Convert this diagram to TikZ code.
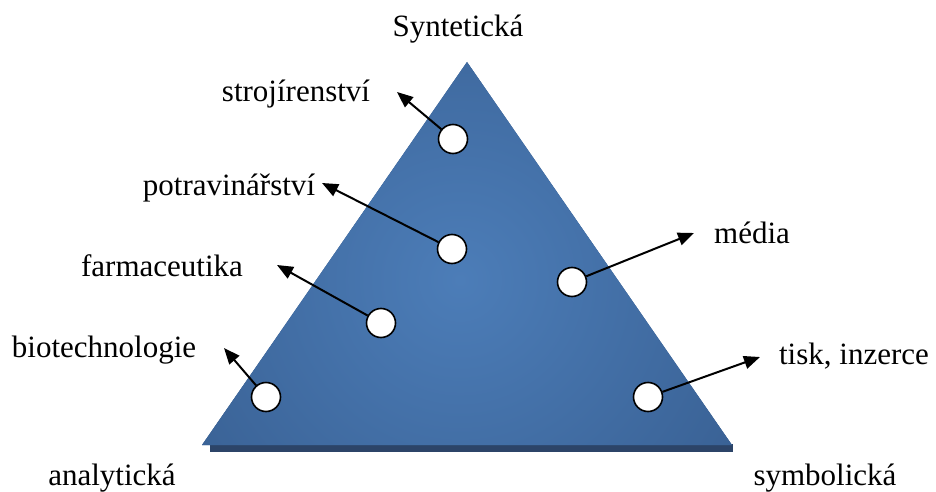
\documentclass[tikz,border=0pt]{standalone}
\usepackage{fontspec}
\setmainfont{Liberation Serif}
\usetikzlibrary{arrows.meta}
\definecolor{triin}{RGB}{76,125,184}
\definecolor{triout}{RGB}{50,86,134}
\definecolor{shadowc}{RGB}{44,68,104}
\tikzset{
  dot/.style={circle,draw=black,line width=1.6pt,fill=white,minimum size=29pt,inner sep=0pt},
  lbl/.style={anchor=base,font=\fontsize{31}{36}\selectfont,inner sep=0pt},
  arr/.style={line width=2pt,-{Triangle[length=16pt,width=13pt]}}
}
\begin{document}
\begin{tikzpicture}[x=1pt,y=-1pt]
\useasboundingbox (0,0) rectangle (936,492);
% shadow strip
\fill[shadowc] (210,444) rectangle (733,452);
% triangle
\coordinate (apex) at (467,62);
\coordinate (bl) at (202,445);
\coordinate (br) at (732,445);
\begin{scope}
\clip (apex) -- (bl) -- (br) -- cycle;
\fill[triout] (150,40) rectangle (780,460);
\shade[inner color=triin,outer color=triout] (460,280) circle (460);
\end{scope}
% circles
\node[dot] (c1) at (453,139) {};
\node[dot] (c2) at (452,249) {};
\node[dot] (c3) at (572,282) {};
\node[dot] (c4) at (381,323) {};
\node[dot] (c5) at (266,397) {};
\node[dot] (c6) at (648,397) {};
% arrow ends
\coordinate (e1) at (397,92);
\coordinate (e2) at (322,183);
\coordinate (e3) at (694,233);
\coordinate (e4) at (277,265);
\coordinate (e5) at (224,348);
\coordinate (e6) at (760,357);
\draw[arr] (c1) -- (e1);
\draw[arr] (c2) -- (e2);
\draw[arr] (c3) -- (e3);
\draw[arr] (c4) -- (e4);
\draw[arr] (c5) -- (e5);
\draw[arr] (c6) -- (e6);
% labels
\node[lbl] (syn) at (458,37) {Syntetická};
\node[lbl] (t1) at (296,102) {strojírenství};
\node[lbl] (t2) at (229,195) {potravinářství};
\node[lbl] (t3) at (162,276) {farmaceutika};
\node[lbl] (t4) at (104,357) {biotechnologie};
\node[lbl] (t5) at (752,243) {média};
\node[lbl] (t6) at (854,364) {tisk, inzerce};
\node[lbl] (ana) at (112,485) {analytická};
\node[lbl] (sym) at (825,485) {symbolická};
\end{tikzpicture}
\end{document}
